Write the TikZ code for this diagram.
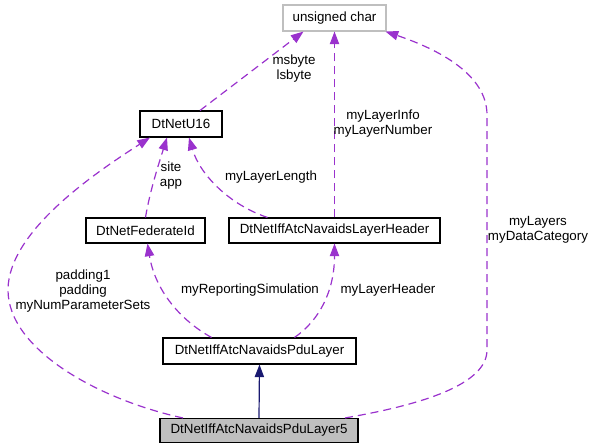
\documentclass[tikz,border=0pt]{standalone}
\usepackage{fontspec}
\setmainfont{Liberation Sans}
\usetikzlibrary{arrows.meta,calc}
\definecolor{dpurple}{HTML}{9A32CD}
\definecolor{dnavy}{HTML}{191970}
\definecolor{dgray}{HTML}{BFBFBF}
\begin{document}
\begin{tikzpicture}[x=0.75pt,y=-0.75pt,
  font=\fontsize{10}{11.25}\selectfont,
  cls/.style={draw=black, line width=0.8pt, inner sep=0pt, fill=white},
  dep/.style={draw=dpurple, line width=0.9pt, dash pattern=on 6pt off 3.75pt,
    -{Triangle[length=9.5pt,width=7pt,fill=dpurple]}},
  inh/.style={draw=dnavy, line width=0.9pt, -{Triangle[length=9.5pt,width=7pt,fill=dnavy]}},
  lbl/.style={align=center, inner sep=0pt}]
\useasboundingbox (0,0) rectangle (593,448);
% classes
\node[cls, draw=dgray, minimum width={103*0.75pt}, minimum height={26*0.75pt}] (uc) at (334.5,18) {unsigned char};
\node[cls, minimum width={82*0.75pt}, minimum height={26*0.75pt}] (u16) at (181,124) {DtNetU16};
\node[cls, minimum width={119*0.75pt}, minimum height={25*0.75pt}] (fed) at (145.5,230.5) {DtNetFederateId};
\node[cls, minimum width={211*0.75pt}, minimum height={25*0.75pt}] (lh) at (334.5,230.5) {DtNetIffAtcNavaidsLayerHeader};
\node[cls, minimum width={193*0.75pt}, minimum height={26*0.75pt}] (pdu) at (259.5,351) {DtNetIffAtcNavaidsPduLayer};
\node[cls, fill=dgray, minimum width={198*0.75pt}, minimum height={24*0.75pt}] (p5) at (259,430.5) {DtNetIffAtcNavaidsPduLayer5};
% connectors
\draw[dep] ($(u16.north)+(19,0)$) -- ($(uc.south)+(-31,0)$);
\draw[dep] (lh.north) -- (uc.south);
\draw[dep] ($(p5.north)+(86,0)$) .. controls (420,405) and (487,385) .. (487,350)
  -- (487,115) .. controls (487,75) and (440,50) .. ($(uc.south east)+(-1,0)$);
\draw[dep] ($(p5.north)+(-76,0)$) .. controls (100,400) and (8,350) .. (8,290)
  .. controls (8,230) and (100,170) .. ($(u16.south)+(-31,0)$);
\draw[dep] ($(pdu.north)+(-48,0)$) .. controls (180,320) and (155,290) .. ($(fed.south)+(2,0)$);
\draw[dep] ($(pdu.north)+(35,0)$) .. controls (320,320) and (334.5,290) .. (lh.south);
\draw[dep] (fed.north) .. controls (150,190) and (160,160) .. ($(u16.south)+(-14,0)$);
\draw[dep] ($(lh.north)+(-67,0)$) .. controls (230,205) and (200,175) .. ($(u16.south)+(8,0)$);
\draw[inh] (p5.north) -- (pdu.south);
% labels
\node[lbl] (l1) at (294,69) {msbyte\\lsbyte};
\node[lbl] (l2) at (383,123.5) {myLayerInfo\\myLayerNumber};
\node[lbl] (l3) at (538,230) {myLayers\\myDataCategory};
\node[lbl] (l4) at (83,291) {padding1\\padding\\myNumParameterSets};
\node[lbl] (l5) at (250,290) {myReportingSimulation};
\node[lbl] (l6) at (388,290) {myLayerHeader};
\node[lbl] (l7) at (171,176) {site\\app};
\node[lbl] (l8) at (271,177) {myLayerLength};
\end{tikzpicture}
\end{document}
